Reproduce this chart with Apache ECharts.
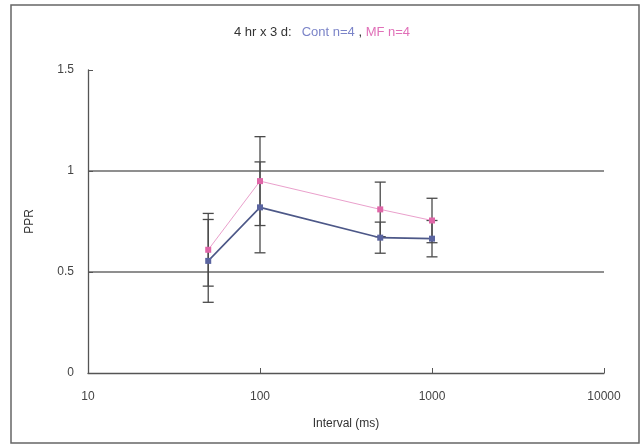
<!DOCTYPE html>
<html>
<head>
<meta charset="utf-8">
<script src="https://cdn.jsdelivr.net/npm/echarts@6/dist/echarts.min.js"></script>
<style>html,body{margin:0;padding:0;background:#fff;}#c{width:644px;height:445px;}</style>
</head>
<body>
<div id="c"></div>
<script>
// Data
const intervals = [50, 100, 500, 1000];
const contMean = [0.555, 0.82, 0.67, 0.665];
const contErr  = [0.205, 0.225, 0.077, 0.09];
const mfMean   = [0.61, 0.95, 0.81, 0.755];
const mfErr    = [0.18, 0.22, 0.135, 0.11];
const yTicks = [0, 0.5, 1, 1.5];
const xTicks = [10, 100, 1000, 10000];

const chart = echarts.init(document.getElementById('c'));
const font = 'Liberation Sans, Arial, sans-serif';

function errData(mean, err) {
  return intervals.map((x, i) => [x, mean[i] - err[i], mean[i] + err[i]]);
}
function errSeries(mean, err) {
  return {
    type: 'custom',
    data: errData(mean, err),
    z: 1,
    renderItem: function (params, api) {
      const x = api.value(0);
      const lo = api.coord([x, api.value(1)]);
      const hi = api.coord([x, api.value(2)]);
      const w = 5.5;
      const style = { stroke: '#4a4a4a', lineWidth: 1.3 };
      return {
        type: 'group',
        children: [
          { type: 'line', shape: { x1: lo[0], y1: lo[1], x2: hi[0], y2: hi[1] }, style: style },
          { type: 'line', shape: { x1: lo[0] - w, y1: lo[1], x2: lo[0] + w, y2: lo[1] }, style: style },
          { type: 'line', shape: { x1: hi[0] - w, y1: hi[1], x2: hi[0] + w, y2: hi[1] }, style: style }
        ]
      };
    }
  };
}

chart.setOption({
  backgroundColor: '#fff',
  animation: false,
  title: {
    left: 'center',
    top: 18,
    text: '{a|4 hr x 3 d:}  {b|Cont n=4}{a| , }{c|MF n=4}',
    textStyle: {
      fontWeight: 'normal',
      rich: {
        a: { color: '#333', fontSize: 13, fontFamily: font, fontWeight: 'normal' },
        b: { color: '#7b84c8', fontSize: 13, fontFamily: font, fontWeight: 'normal' },
        c: { color: '#e070b8', fontSize: 13, fontFamily: font, fontWeight: 'normal' }
      }
    }
  },
  graphic: [{
    type: 'rect',
    shape: { x: 11, y: 5, width: 628, height: 438 },
    style: { fill: 'none', stroke: '#666', lineWidth: 1.5 },
    silent: true
  }],
  grid: { left: 88, right: 40, top: 70, bottom: 72 },
  xAxis: {
    type: 'log',
    logBase: 10,
    min: xTicks[0],
    max: xTicks[xTicks.length - 1],
    name: 'Interval (ms)',
    nameLocation: 'middle',
    nameGap: 45,
    nameTextStyle: { color: '#333', fontSize: 12, fontFamily: font },
    axisLine: { lineStyle: { color: '#555', width: 1.3 } },
    axisTick: { show: true, inside: true, length: 5, lineStyle: { color: '#555' } },
    axisLabel: { color: '#444', fontSize: 12, fontFamily: font, margin: 18,
      formatter: v => String(Math.round(v)) },
    splitLine: { show: false },
    minorTick: { show: false }
  },
  yAxis: {
    type: 'value',
    min: yTicks[0],
    max: yTicks[yTicks.length - 1],
    interval: 0.5,
    name: 'PPR',
    nameLocation: 'middle',
    nameGap: 52,
    nameTextStyle: { color: '#333', fontSize: 12, fontFamily: font },
    axisLine: { show: true, lineStyle: { color: '#555', width: 1.3 } },
    axisTick: { show: true, inside: true, length: 5, lineStyle: { color: '#555' } },
    axisLabel: { color: '#444', fontSize: 12, fontFamily: font, margin: 14,
      formatter: v => String(v) },
    splitLine: { show: true, lineStyle: { color: ['rgba(0,0,0,0)', '#6a6a6a', '#6a6a6a', 'rgba(0,0,0,0)'], width: 1.5 } }
  },
  series: [
    errSeries(contMean, contErr),
    errSeries(mfMean, mfErr),
    {
      name: 'Cont',
      type: 'line',
      z: 3,
      data: intervals.map((x, i) => [x, contMean[i]]),
      symbol: 'rect',
      symbolSize: 6,
      lineStyle: { color: '#4d5888', width: 1.6 },
      itemStyle: { color: '#5a64a0' }
    },
    {
      name: 'MF',
      type: 'line',
      z: 4,
      data: intervals.map((x, i) => [x, mfMean[i]]),
      symbol: 'rect',
      symbolSize: 6,
      lineStyle: { color: '#eaa0cc', width: 1 },
      itemStyle: { color: '#e066a8' }
    }
  ]
});
</script>
</body>
</html>
